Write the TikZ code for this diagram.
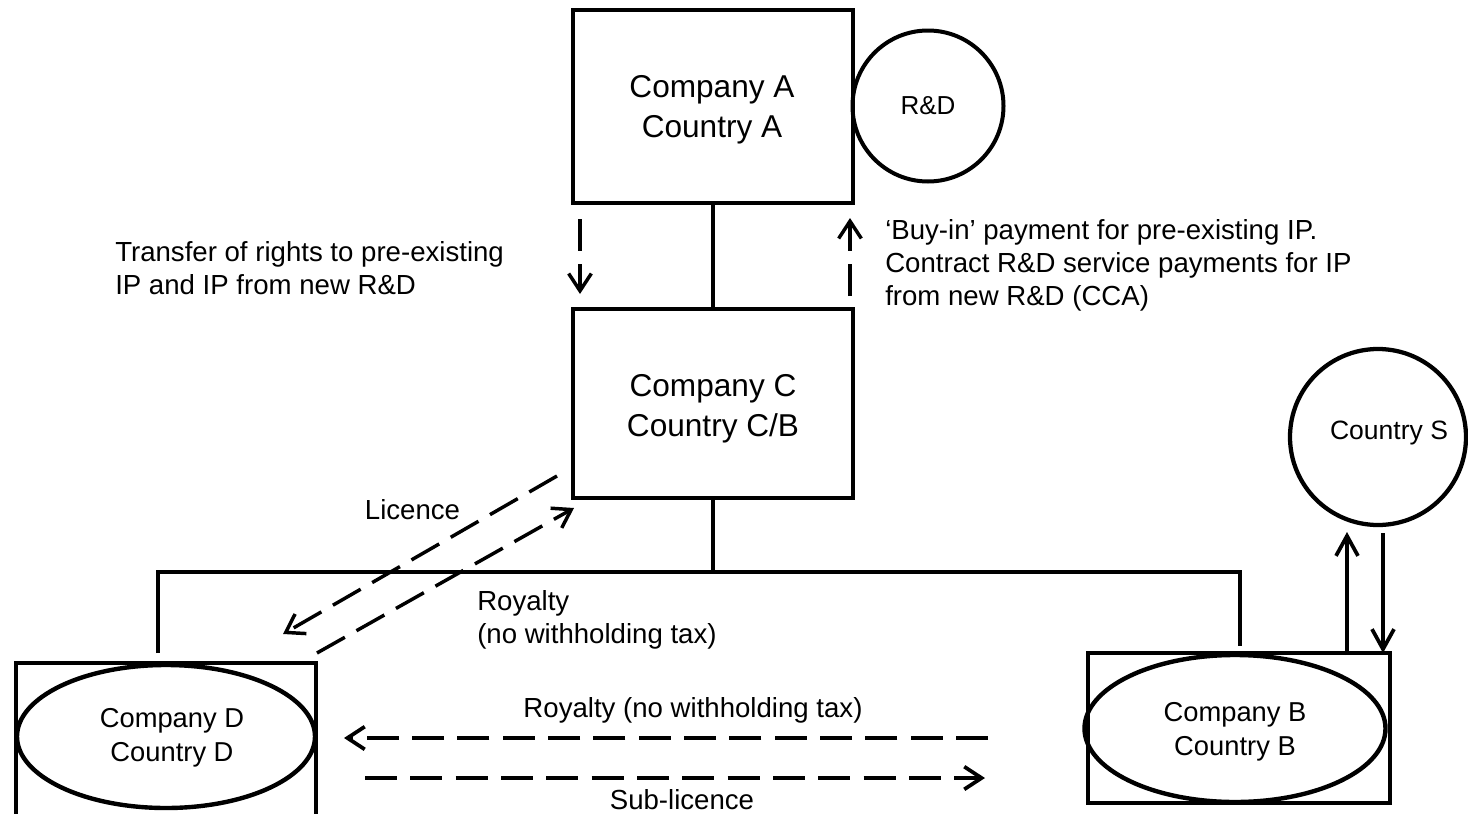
\documentclass[tikz,border=0pt]{standalone}
\usepackage{fontspec}
\setmainfont{Liberation Sans}
\usetikzlibrary{arrows.meta,shapes.geometric}
\begin{document}
\begin{tikzpicture}[x=0.75pt,y=-0.75pt,
  bigtxt/.style={font=\fontsize{23.7}{30}\selectfont},
  smalltxt/.style={font=\fontsize{20.7}{24.5}\selectfont},
  midtxt/.style={font=\fontsize{20.5}{25.5}\selectfont},
  entity/.style={draw, rectangle, line width=3.4pt, inner sep=0pt},
  caption/.style={align=center, inner sep=0pt},
  frame/.style={draw, rectangle, line width=3pt, inner sep=0pt},
  oval/.style={draw, ellipse, line width=3.3pt, inner sep=0pt},
  ring/.style={draw, circle, line width=3.2pt, inner sep=0pt},
  link/.style={line width=2.6pt},
  flow/.style={line width=2.6pt, dash pattern=on 24pt off 10pt,
    -{Straight Barb[length=13pt,width=17pt]}},
  taxflow/.style={line width=2.8pt, -{Straight Barb[length=15pt,width=16.5pt]}},
  note/.style={smalltxt, align=left, inner sep=0pt}
]
\useasboundingbox (0,0) rectangle (1468,814);

% parent, R&D and the IP holder
\node[entity, minimum width=210pt, minimum height=144.75pt] (A) at (713,106.5) {};
\node[caption, bigtxt] (Atxt) at (712,110) {Company A\\Country A};
\node[ring, line width=3pt, minimum size=113.25pt, font=\fontsize{19.5}{22}\selectfont] (rd) at (928,106) {R\&D};
\node[entity, minimum width=210pt, minimum height=141.75pt] (C) at (713,403.5) {};
\node[caption, bigtxt] (Ctxt) at (713,409) {Company C\\Country C/B};

% low-tax country
\node[ring, minimum size=132pt] (S) at (1378,437) {};
\node[font=\fontsize{19.9}{22}\selectfont, inner sep=0pt] (Stxt) at (1389,433) {Country S};

% operating companies
\node[frame, minimum width=226.5pt, minimum height=112.5pt] (Bbox) at (1239,728) {};
\node[oval, minimum width=225.75pt, minimum height=110.25pt] (B) at (1235,728.5) {};
\node[caption, midtxt] (Btxt) at (1235,732) {Company B\\Country B};
\node[frame, minimum width=225pt, minimum height=115.5pt] (Dbox) at (166,740) {};
\node[oval, minimum width=223.5pt, minimum height=107.25pt] (D) at (166,736.5) {};
\node[caption, midtxt] (Dtxt) at (172,737.5) {Company D\\Country D};

% ownership lines
\coordinate (bus) at (713,572);
\coordinate (busL) at (158,572);
\coordinate (busR) at (1240,572);
\coordinate (stubL) at (158,653);
\coordinate (stubR) at (1240,646);
\draw[link] (A.south) -- (C.north);
\draw[link] (C.south) -- (bus);
\draw[link] (stubL) -- (busL) -- (busR) -- (stubR);

% A <-> C flows
\coordinate (xferS) at (580,219);
\coordinate (xferE) at (580,294);
\coordinate (buyS) at (850,296);
\coordinate (buyE) at (850,218);
\draw[flow] (xferS) -- (xferE);
\draw[flow] (buyS) -- (buyE);
\node[note, anchor=west] (xferL) at (115,268) {Transfer of rights to pre-existing\\IP and IP from new R\&D};
\node[note, anchor=west] (buyL) at (885,265.5) {‘Buy-in’ payment for pre-existing IP.\\Contract R\&D service payments for IP\\from new R\&D (CCA)};

% C <-> D flows
\coordinate (licS) at (557,476);
\coordinate (licE) at (283,634);
\coordinate (royS) at (317,653);
\coordinate (royE) at (574,508);
\draw[flow] (licS) -- (licE);
\draw[flow] (royS) -- (royE);
\node[smalltxt, inner sep=0pt, anchor=base] (licL) at (412.5,519) {Licence};
\node[note, anchor=west] (royL) at (477,620) {Royalty\\(no withholding tax)};

% D <-> B flows
\coordinate (rbS) at (988,738);
\coordinate (rbE) at (344,738);
\coordinate (slS) at (365,778);
\coordinate (slE) at (985,778);
\draw[flow, line width=2.8pt] (rbS) -- (rbE);
\draw[flow, line width=2.8pt] (slS) -- (slE);
\node[smalltxt, inner sep=0pt, anchor=base] (rbL) at (693,717) {Royalty (no withholding tax)};
\node[smalltxt, inner sep=0pt, anchor=base] (slL) at (682,809) {Sub-licence};

% B <-> S flows
\coordinate (upS) at (1347,655);
\coordinate (upE) at (1347,532);
\coordinate (dnS) at (1383,533);
\coordinate (dnE) at (1383,653);
\draw[taxflow] (upS) -- (upE);
\draw[taxflow] (dnS) -- (dnE);
\end{tikzpicture}
\end{document}
